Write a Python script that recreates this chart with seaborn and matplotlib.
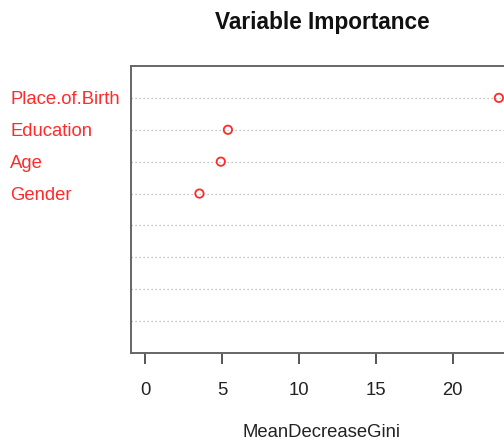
import matplotlib
matplotlib.use('Agg')
import matplotlib.pyplot as plt
import seaborn as sns
import pandas as pd

# Variable importance from the random forest
variables = ['Place.of.Birth', 'Education', 'Age', 'Gender']
mean_decrease_gini = [23.0, 5.38, 4.92, 3.53]
n_rows = 8  # dotchart shows 8 rows, only the top 4 are used
x_ticks = [0, 5, 10, 15, 20]

df = pd.DataFrame({'variable': variables, 'MeanDecreaseGini': mean_decrease_gini})

sns.set_style('white')
plt.rcParams['font.family'] = ['Liberation Sans', 'DejaVu Sans']

fig = plt.figure(figsize=(5.04, 4.45), dpi=100)
ax = fig.add_axes([131 / 504, 92 / 445, 382 / 504, 287 / 445])

sns.scatterplot(data=df, x='MeanDecreaseGini', y='variable', ax=ax,
                marker='o', s=36, facecolors='none', edgecolor='#ff2a2a',
                linewidth=1.3, zorder=3)

# R-style range: include 0, extend 4% each side
lo, hi = 0, max(mean_decrease_gini)
ext = (hi - lo) * 0.04
ax.set_xlim(lo - ext, hi + ext)
ax.set_ylim(n_rows, -1)

ax.set_yticks(range(n_rows))
ax.set_yticklabels(variables + [''] * (n_rows - len(variables)))
ax.yaxis.grid(True, linestyle=(0, (1, 2.2)), color='#b0b0b0', linewidth=0.9)
ax.xaxis.grid(False)
ax.set_axisbelow(True)

ax.tick_params(axis='y', length=0, pad=87, labelsize=13.3, labelcolor='#ff2a2a')
for lab in ax.get_yticklabels():
    lab.set_ha('left')
    lab.set_va('center_baseline')

ax.set_xticks(x_ticks)
ax.tick_params(axis='x', direction='out', length=8, width=1.4, color='#555555',
               pad=13, labelsize=13.3, labelcolor='#222222', bottom=True)

for side in ['left', 'top', 'bottom', 'right']:
    ax.spines[side].set_color('#666666')
    ax.spines[side].set_linewidth(1.4)

ax.set_ylabel('')
ax.set_xlabel('MeanDecreaseGini', fontsize=13.3, color='#222222', labelpad=18)
ax.set_title('Variable Importance', fontsize=16.3, fontweight='bold', pad=27,
             color='#111111')

plt.savefig('out.png', dpi=100)
